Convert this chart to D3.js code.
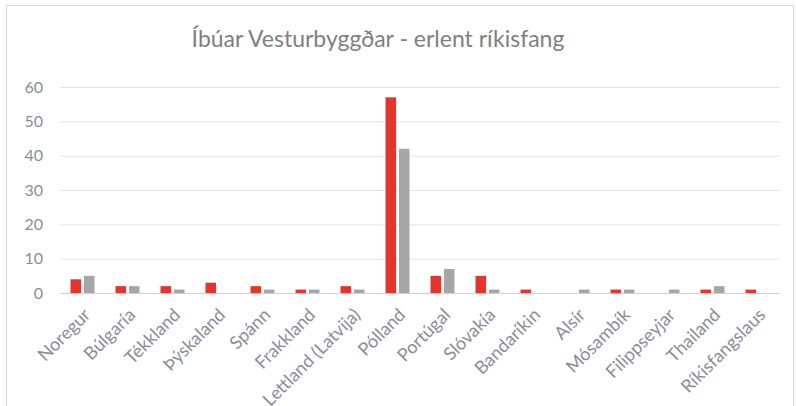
<!DOCTYPE html>
<html>
<head>
<meta charset="utf-8">
<script src="https://cdn.jsdelivr.net/npm/d3@7"></script>
<style>
  body { margin: 0; background: #fff; overflow: hidden; }
  text { font-family: Lato, "Open Sans", sans-serif; }
</style>
</head>
<body>
<svg id="chart"></svg>
<script>
const w = 796, h = 406;
const margins = { top: 87, right: 16, bottom: 113, left: 60 };

// data
const countries = ["Noregur", "Búlgaría", "Tékkland", "Þýskaland", "Spánn", "Frakkland",
  "Lettland (Latvija)", "Pólland", "Portúgal", "Slóvakía", "Bandaríkin", "Alsír",
  "Mósambík", "Filippseyjar", "Thailand", "Ríkisfangslaus"];
const redValues  = [4, 2, 2, 3, 2, 1, 2, 57, 5, 5, 1, 0, 1, 0, 1, 1];
const greyValues = [5, 2, 1, 0, 1, 1, 1, 42, 7, 1, 0, 1, 1, 1, 2, 0];
const yTicks = [0, 10, 20, 30, 40, 50, 60];
const title = "Íbúar Vesturbyggðar - erlent ríkisfang";

const series = ["red", "grey"];
const colors = { red: "#e8332a", grey: "#a6a6a6" };

const rows = countries.map((c, i) => ({ country: c, red: redValues[i], grey: greyValues[i] }));

const svg = d3.select('#chart')
  .attr('width', w)
  .attr('height', h)
  .style('display', 'block');

// outer frame
svg.append('rect')
  .attr('x', 6.5).attr('y', 5.5)
  .attr('width', 787).attr('height', h)
  .attr('fill', 'none')
  .attr('stroke', '#d9d9d9');

const xScale = d3.scaleBand()
  .domain(countries)
  .range([margins.left, w - margins.right]);

const subScale = d3.scaleBand()
  .domain(series)
  .range([10.5, 34.5])
  .paddingInner(0.22);

const yScale = d3.scaleLinear()
  .domain([0, 60])
  .range([293, 87]);

// gridlines
svg.append('g')
  .selectAll('line')
  .data(yTicks)
  .join('line')
  .attr('x1', margins.left)
  .attr('x2', w - margins.right)
  .attr('y1', d => yScale(d) + 0.5)
  .attr('y2', d => yScale(d) + 0.5)
  .attr('stroke', d => d === 0 ? '#d0d0d0' : '#e3e3e3')
  .attr('stroke-width', 1);

// y labels
svg.append('g')
  .selectAll('text')
  .data(yTicks)
  .join('text')
  .attr('x', 43)
  .attr('y', d => yScale(d))
  .attr('dy', '0.35em')
  .attr('text-anchor', 'end')
  .attr('font-size', 16)
  .attr('fill', '#8c8c99')
  .text(d => d);

// bars
const groups = svg.append('g')
  .selectAll('g')
  .data(rows)
  .join('g')
  .attr('transform', d => `translate(${xScale(d.country)}, 0)`);

groups.selectAll('rect')
  .data(d => series.map(s => ({ key: s, value: d[s] })).filter(v => v.value > 0))
  .join('rect')
  .attr('x', d => subScale(d.key))
  .attr('y', d => yScale(d.value))
  .attr('width', subScale.bandwidth())
  .attr('height', d => yScale(0) - yScale(d.value))
  .attr('fill', d => colors[d.key]);

// x labels, rotated
svg.append('g')
  .selectAll('text')
  .data(countries)
  .join('text')
  .attr('transform', d => `translate(${xScale(d) + xScale.bandwidth() / 2 + 9}, ${316}) rotate(-45)`)
  .attr('text-anchor', 'end')
  .attr('font-size', 18)
  .attr('fill', '#8c8c99')
  .text(d => d);

// title
svg.append('text')
  .attr('x', 378)
  .attr('y', 47)
  .attr('text-anchor', 'middle')
  .attr('font-size', 23)
  .attr('fill', '#7f7f7f')
  .text(title);
</script>
</body>
</html>
